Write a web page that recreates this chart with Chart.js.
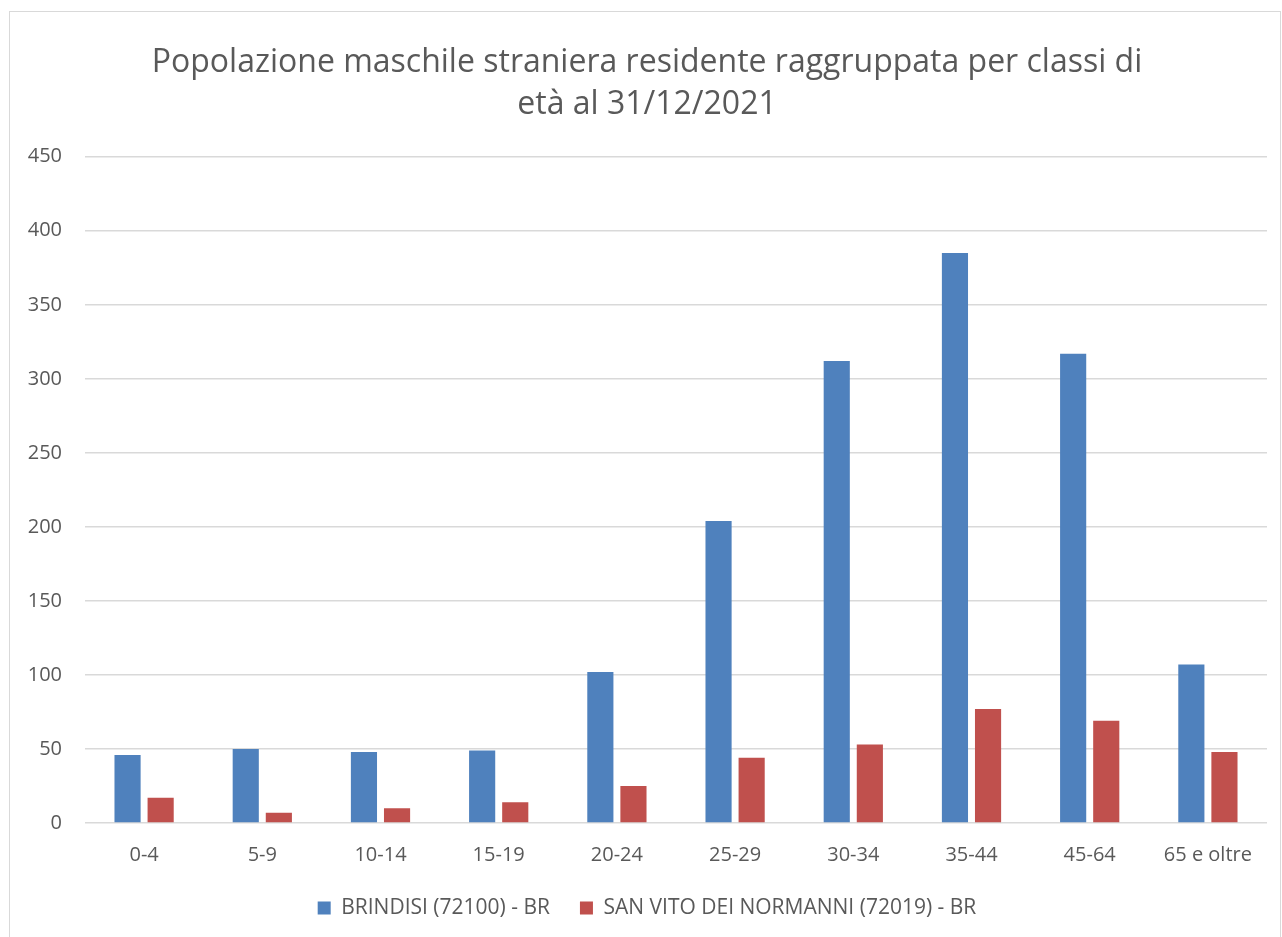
<!DOCTYPE html>
<html>
<head>
<meta charset="utf-8">
<script src="https://cdn.jsdelivr.net/npm/chart.js@4/dist/chart.umd.min.js"></script>
<style>
  body { margin: 0; background: #fff; }
  #wrap { position: absolute; left: 0; top: 0; width: 1282px; height: 937px; }
  #frame { position: absolute; left: 9px; top: 11px; width: 1270px; height: 940px;
           border: 1.5px solid #d9d9d9; pointer-events: none; }
</style>
</head>
<body>
<div id="wrap"><canvas id="chart" width="1282" height="937"></canvas></div>
<div id="frame"></div>
<script>
const ageClasses = ['0-4', '5-9', '10-14', '15-19', '20-24', '25-29', '30-34', '35-44', '45-64', '65 e oltre'];
const brindisi = [46, 50, 48, 49, 102, 204, 312, 385, 317, 107];
const sanVito = [17, 7, 10, 14, 25, 44, 53, 77, 69, 48];
const titleLines = ['Popolazione maschile straniera residente raggruppata per classi di', 'età al 31/12/2021'];

const textColor = '#595959';
const fontFamily = '"Open Sans", "DejaVu Sans", sans-serif';

new Chart(document.getElementById('chart'), {
  type: 'bar',
  data: {
    labels: ageClasses,
    datasets: [
      { label: 'BRINDISI (72100) - BR', data: brindisi, backgroundColor: '#4f81bd',
        categoryPercentage: 0.56, barPercentage: 0.79 },
      { label: 'SAN VITO DEI NORMANNI (72019) - BR', data: sanVito, backgroundColor: '#c0504d',
        categoryPercentage: 0.56, barPercentage: 0.79 }
    ]
  },
  options: {
    responsive: false,
    animation: false,
    layout: { padding: { left: 27, right: 15, top: 0, bottom: 8.5 } },
    plugins: {
      title: {
        display: true,
        text: titleLines,
        color: textColor,
        font: { family: fontFamily, size: 32, weight: 'normal', lineHeight: 1.34 },
        padding: { top: 41, bottom: 30 }
      },
      legend: {
        position: 'bottom',
        labels: {
          color: textColor,
          font: { family: fontFamily, size: 21 },
          boxWidth: 13,
          boxHeight: 13,
          padding: 30
        }
      },
      tooltip: { enabled: false }
    },
    scales: {
      x: {
        grid: { display: false },
        border: { display: false },
        ticks: { color: textColor, font: { family: fontFamily, size: 20 }, padding: 12, maxRotation: 0 },
        afterFit: (scale) => { scale.height = 44.5; }
      },
      y: {
        min: 0,
        max: 450,
        ticks: { stepSize: 50, color: textColor, font: { family: fontFamily, size: 20 }, padding: 23 },
        grid: { color: '#d9d9d9', lineWidth: 1.5, drawTicks: false },
        border: { display: false },
        afterFit: (scale) => { scale.width = 58; }
      }
    }
  }
});
</script>
</body>
</html>
